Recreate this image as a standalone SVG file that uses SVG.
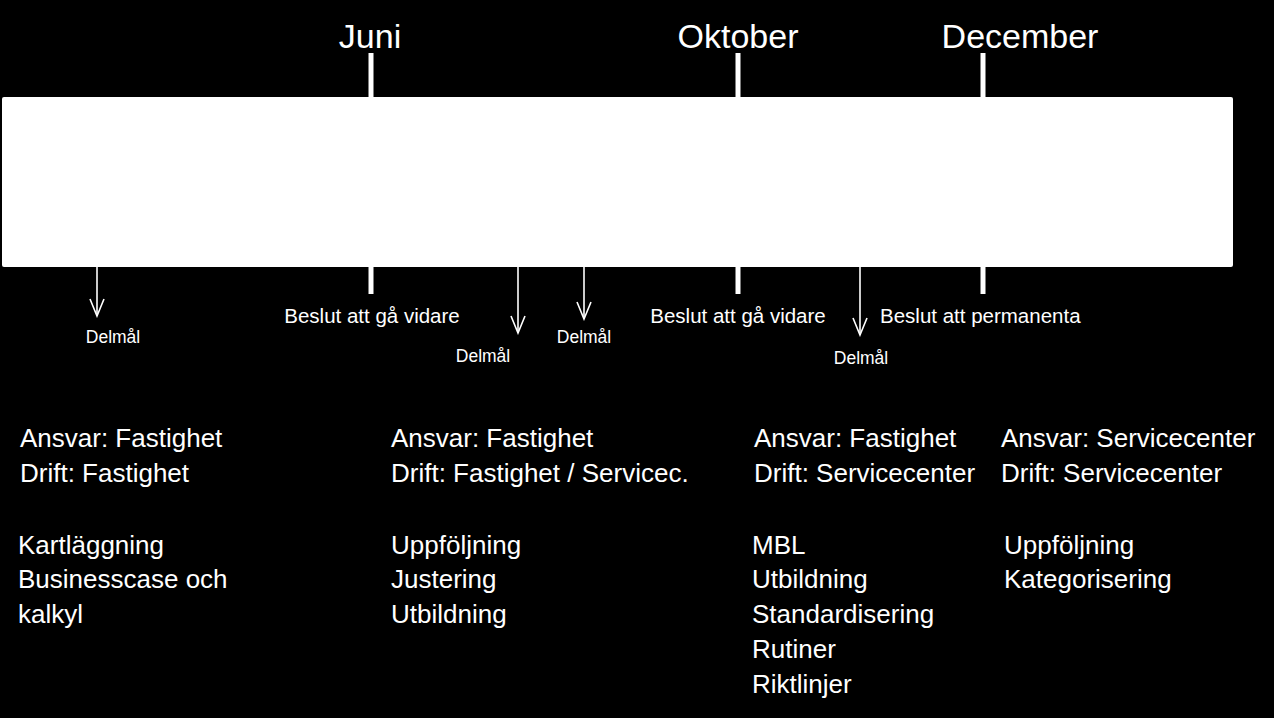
<svg xmlns="http://www.w3.org/2000/svg" width="1274" height="718" viewBox="0 0 1274 718">
<style>
text{font-family:"Liberation Sans",Arial,sans-serif;fill:#fff}
.month{font-size:34px;text-anchor:middle}
.dec{font-size:20.5px}
.del{font-size:17.5px;text-anchor:middle}
.body{font-size:26px}
.tick{stroke:#fff;stroke-width:5}
.arr{stroke:#fff;stroke-width:1.6;fill:none}
</style>
<defs>
<marker id="vh" markerWidth="20" markerHeight="18" refX="18" refY="8" orient="auto" markerUnits="userSpaceOnUse" viewBox="0 0 20 16">
<path d="M1,1 L18,8 L1,15" fill="none" stroke="#fff" stroke-width="1.6"/>
</marker>
</defs>
<rect width="1274" height="718" fill="#000"/>
<g id="timeline"><rect x="2" y="97" width="1231" height="170" rx="2" fill="#fff"/></g>
<g id="months">
<text class="month" x="370" y="48">Juni</text>
<text class="month" x="738" y="48">Oktober</text>
<text class="month" x="1020" y="48">December</text>
</g>
<g id="connectors">
<line class="tick" x1="371" y1="53" x2="371" y2="97"/>
<line class="tick" x1="738" y1="53" x2="738" y2="97"/>
<line class="tick" x1="983" y1="53" x2="983" y2="97"/>
<line class="tick" x1="371" y1="267" x2="371" y2="294"/>
<line class="tick" x1="738" y1="267" x2="738" y2="294"/>
<line class="tick" x1="983" y1="267" x2="983" y2="294"/>
<line class="arr" x1="97" y1="267" x2="97" y2="316" marker-end="url(#vh)"/>
<line class="arr" x1="518" y1="267" x2="518" y2="333" marker-end="url(#vh)"/>
<line class="arr" x1="584" y1="267" x2="584" y2="319" marker-end="url(#vh)"/>
<line class="arr" x1="860" y1="267" x2="860" y2="335" marker-end="url(#vh)"/>
</g>
<g id="decisions">
<text class="dec" x="372" y="323" text-anchor="middle">Beslut att gå vidare</text>
<text class="dec" x="738" y="323" text-anchor="middle">Beslut att gå vidare</text>
<text class="dec" x="880" y="323">Beslut att permanenta</text>
</g>
<g id="milestones">
<text class="del" x="113" y="343">Delmål</text>
<text class="del" x="483" y="362">Delmål</text>
<text class="del" x="584" y="343">Delmål</text>
<text class="del" x="861" y="364">Delmål</text>
</g>
<g id="col1">
<text class="body" x="20" y="447">Ansvar: Fastighet</text>
<text class="body" x="20" y="482">Drift: Fastighet</text>
<text class="body" x="18" y="554">Kartläggning</text>
<text class="body" x="18" y="588">Businesscase och</text>
<text class="body" x="18" y="623">kalkyl</text>
</g>
<g id="col2">
<text class="body" x="391" y="447">Ansvar: Fastighet</text>
<text class="body" x="391" y="482">Drift: Fastighet / Servicec.</text>
<text class="body" x="391" y="554">Uppföljning</text>
<text class="body" x="391" y="588">Justering</text>
<text class="body" x="391" y="623">Utbildning</text>
</g>
<g id="col3">
<text class="body" x="754" y="447">Ansvar: Fastighet</text>
<text class="body" x="754" y="482">Drift: Servicecenter</text>
<text class="body" x="752" y="554">MBL</text>
<text class="body" x="752" y="588">Utbildning</text>
<text class="body" x="752" y="623">Standardisering</text>
<text class="body" x="752" y="658">Rutiner</text>
<text class="body" x="752" y="693">Riktlinjer</text>
</g>
<g id="col4">
<text class="body" x="1001" y="447">Ansvar: Servicecenter</text>
<text class="body" x="1001" y="482">Drift: Servicecenter</text>
<text class="body" x="1004" y="554">Uppföljning</text>
<text class="body" x="1004" y="588">Kategorisering</text>
</g>
</svg>
